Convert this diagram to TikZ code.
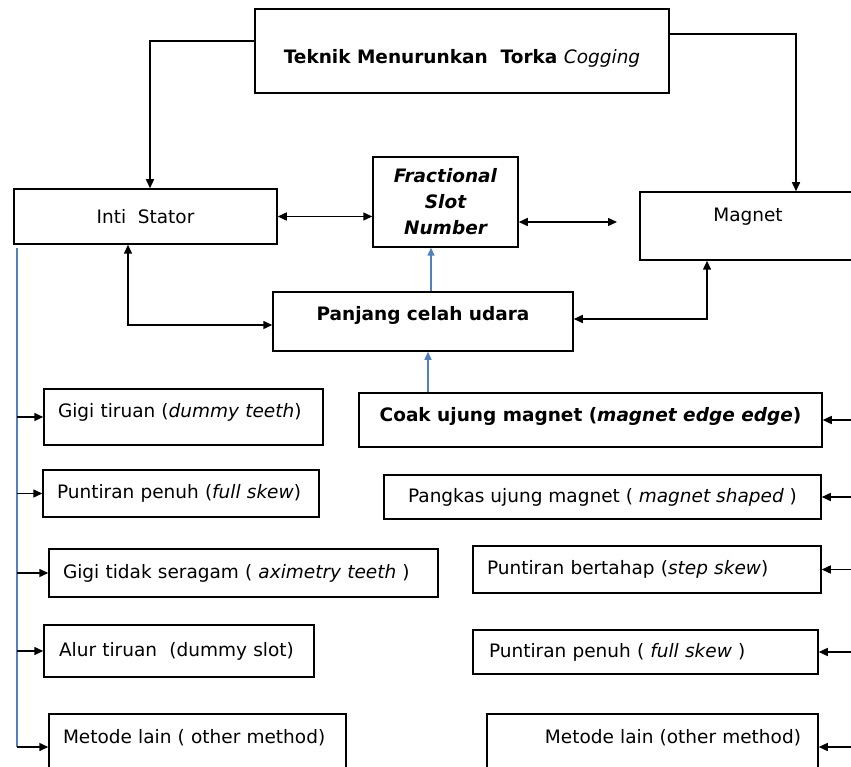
\documentclass[tikz,border=0pt]{standalone}
\usepackage{fontspec}
\setmainfont{DejaVu Sans}
\usepackage{xcolor}
\usetikzlibrary{arrows.meta}
\definecolor{linkblue}{RGB}{79,129,189}

\begin{document}
\begin{tikzpicture}[x=1pt, y=-1pt, line width=1.5pt, >={Triangle[length=9pt,width=8pt]},
    box/.style={rectangle, draw, inner xsep=14pt, inner ysep=0pt, font=\fontsize{18.5}{22}\selectfont},
    leftbox/.style={box, align=left},
    bluelink/.style={->, draw=linkblue, line width=1.5pt, >={Triangle[length=8pt,width=7pt]}, color=linkblue}]
            \useasboundingbox (0,0) rectangle (851,767);
            \clip (0,0) rectangle (851,767);

            \node[box, minimum width=414pt, text height=55pt, text depth=29pt] at (462,51) (top) {\bfseries Teknik Menurunkan\ \ Torka \mdseries\itshape Cogging};
            \node[box, minimum width=263pt, minimum height=55pt] at (145.5,216.5) (stator) {Inti\ \ Stator};
            \node[box, minimum width=145pt, minimum height=90pt, align=center, font=\fontsize{18.5}{26}\selectfont\bfseries\itshape] at (445.5,202) (frac) {Fractional\\Slot\\Number};
            \node[box, minimum width=216pt, text height=29.5pt, text depth=38.5pt] at (748,226) (magnet) {Magnet};
            \node[box, minimum width=300pt, text height=28.7pt, text depth=30.3pt] at (423,321.5) (panjang) {\bfseries Panjang celah udara};

            \node[box, minimum width=463pt, text height=28.7pt, text depth=25.3pt] at (590.5,420) (coak) {\bfseries Coak ujung magnet (\textit{magnet edge edge})};
            \node[box, minimum width=437pt, minimum height=44pt] at (602.5,497) (pangkas) {Pangkas ujung magnet ( \textit{magnet shaped} )};
            \node[leftbox, text width=320pt, minimum height=47pt] at (647,569.5) (bertahap) {Puntiran bertahap (\textit{step skew})};
            \node[leftbox, text width=313pt, inner xsep=16pt, minimum height=44pt] at (645.5,652) (penuhR) {Puntiran penuh ( \textit{full skew} )};
            \node[box, align=right, text width=297pt, inner xsep=17pt, text height=29.7pt, text depth=36.3pt] at (652.5,747) (lainR) {Metode lain (other method)};

            \node[leftbox, text width=251pt, text height=28.5pt, text depth=27.5pt] at (183.5,417) (gigi) {Gigi tiruan (\textit{dummy teeth})};
            \node[leftbox, text width=248pt, minimum height=47pt] at (181,493.5) (penuhL) {Puntiran penuh (\textit{full skew})};
            \node[leftbox, text width=361pt, minimum height=48pt] at (243.5,573) (seragam) {Gigi tidak seragam ( \textit{aximetry teeth} )};
            \node[leftbox, text width=240pt, inner xsep=15pt, minimum height=52pt] at (179,651) (alur) {Alur tiruan\ \ (dummy slot)};
            \node[leftbox, text width=269pt, text height=29.7pt, text depth=36.3pt] at (197.5,747) (lainL) {Metode lain ( other method)};

            \coordinate (fsnend) at (617,222);
            \coordinate (bustop) at (17,248);
            \coordinate (busend) at (17,747);
            \coordinate (rbus) at (860,400);

            \draw[->] ([yshift=10pt]top.west) -| ([xshift=4.5pt]stator.north);
            \draw[->] ([yshift=17pt]top.east) -| ([xshift=48pt]magnet.north);
            \draw[<->] (stator.east) -- (stator.east -| frac.west);
            \draw[<->] (frac.east |- fsnend) -- (fsnend);
            \draw[<->] ([xshift=-17.5pt]stator.south) |- ([yshift=-3.5pt]panjang.west);
            \draw[<->] ([yshift=2.5pt]panjang.east) -| ([xshift=-41pt]magnet.south);
            \draw[bluelink] ([xshift=8pt]panjang.north) -- ([xshift=8pt]panjang.north |- frac.south);
            \draw[bluelink] ([xshift=5pt]panjang.south |- coak.north) -- ([xshift=5pt]panjang.south);

            \draw[linkblue, line width=1.5pt] (bustop) -- (busend);
            \foreach \n in {gigi,penuhL,seragam,alur,lainL}
                \draw[->] (busend |- \n.west) -- (\n.west);
            \foreach \n in {coak,pangkas,bertahap,penuhR,lainR}
                \draw[->] (rbus |- \n.east) -- (\n.east);

        \end{tikzpicture}
\end{document}
